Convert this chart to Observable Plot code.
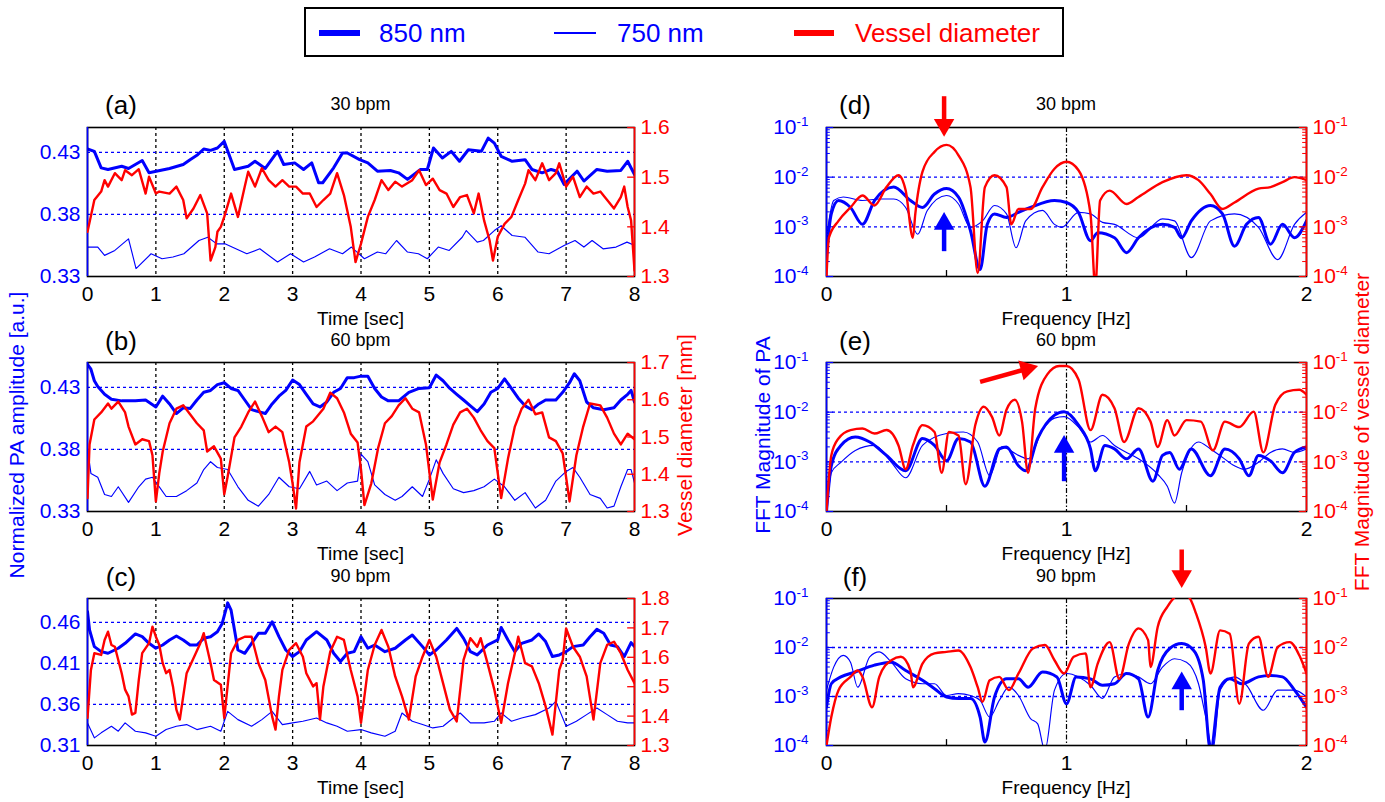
<!DOCTYPE html>
<html><head><meta charset="utf-8">
<script src="https://cdn.jsdelivr.net/npm/d3@7"></script>
<script src="https://cdn.jsdelivr.net/npm/@observablehq/plot@0.6"></script>
<style>
body{margin:0;background:#fff;}
#root{position:relative;width:1385px;height:802px;overflow:hidden;font-family:"Liberation Sans",Arial,Helvetica,sans-serif;background:#fff;}
.abs{position:absolute;white-space:nowrap;line-height:1;}
</style></head><body><div id="root"></div>
<script>
// ---------------- DATA ----------------
const timeTicks = [0,1,2,3,4,5,6,7,8];
const freqTicks = [0,1,2];
const freqMinor = [0.5,1.5];
const fftDecades = [-4,-3,-2,-1];           // log10 of FFT magnitude tick values
const legendItems = ["850 nm","750 nm","Vessel diameter"];
const bpmTitles = ["30 bpm","60 bpm","90 bpm"];
const panelLetters = ["(a)","(b)","(c)","(d)","(e)","(f)"];

// Panel (a) 30 bpm : [time s, value]
const a850 = [[0,.4327],[.1,.4308],[.2,.4175],[.3,.4162],[.5,.4188],[.6,.417],[.8,.4234],[.9,.4135],[1.2,.417],[1.4,.4202],[1.5,.4241],[1.6,.4276],[1.7,.4327],[1.8,.4316],[1.9,.4335],[2,.4388],[2.15,.4162],[2.35,.4188],[2.45,.4228],[2.6,.417],[2.78,.4308],[2.87,.4202],[3.03,.4215],[3.16,.4162],[3.28,.4215],[3.38,.4055],[3.44,.4055],[3.6,.4175],[3.73,.4295],[3.8,.4295],[3.98,.4241],[4.1,.4215],[4.24,.4148],[4.43,.4154],[4.55,.4135],[4.68,.4082],[4.87,.4162],[4.97,.4162],[5.06,.4335],[5.19,.4255],[5.32,.4308],[5.44,.4228],[5.57,.4321],[5.76,.4308],[5.86,.4414],[5.95,.4374],[6.05,.4268],[6.21,.4228],[6.4,.4241],[6.5,.4162],[6.65,.4135],[6.78,.4162],[6.87,.4148],[6.97,.4042],[7.16,.4148],[7.26,.4069],[7.45,.4162],[7.6,.4148],[7.8,.4154],[7.9,.4228],[8,.4122]];
const a750 = [[0,.3537],[.15,.3537],[.25,.347],[.4,.351],[.6,.3603],[.71,.3364],[.93,.3483],[1.09,.3443],[1.25,.3457],[1.41,.3483],[1.63,.359],[1.76,.3616],[1.89,.3563],[2.01,.3563],[2.17,.3523],[2.33,.3483],[2.52,.3523],[2.78,.3417],[2.97,.3483],[3.16,.3417],[3.32,.3457],[3.54,.3523],[3.73,.3483],[3.86,.3537],[4.05,.3443],[4.24,.3497],[4.36,.3483],[4.52,.359],[4.68,.3497],[4.84,.3483],[4.97,.3443],[5.13,.3537],[5.29,.351],[5.48,.3616],[5.54,.367],[5.7,.3577],[5.79,.359],[5.95,.367],[6.05,.3709],[6.21,.363],[6.4,.3616],[6.59,.3497],[6.75,.3483],[6.97,.355],[7.13,.359],[7.26,.3537],[7.38,.359],[7.54,.3523],[7.73,.3537],[7.89,.3577],[8,.355]];
const aVessel = [[0,1.39],[.1,1.454],[.2,1.471],[.25,1.494],[.3,1.481],[.4,1.508],[.5,1.494],[.55,1.514],[.65,1.504],[.75,1.516],[.85,1.467],[.9,1.501],[1,1.467],[1.05,1.471],[1.2,1.467],[1.3,1.481],[1.4,1.454],[1.45,1.417],[1.55,1.437],[1.65,1.464],[1.75,1.427],[1.8,1.332],[1.87,1.359],[1.9,1.39],[1.95,1.4],[2,1.42],[2.1,1.467],[2.2,1.42],[2.3,1.481],[2.35,1.511],[2.45,1.481],[2.55,1.518],[2.65,1.494],[2.75,1.481],[2.85,1.494],[2.95,1.481],[3.05,1.481],[3.15,1.467],[3.25,1.467],[3.35,1.44],[3.45,1.454],[3.55,1.467],[3.65,1.508],[3.75,1.464],[3.85,1.4],[3.92,1.329],[4,1.366],[4.1,1.42],[4.2,1.454],[4.3,1.494],[4.4,1.474],[4.5,1.491],[4.6,1.481],[4.75,1.494],[4.85,1.514],[4.95,1.484],[5.05,1.497],[5.15,1.474],[5.25,1.467],[5.35,1.44],[5.45,1.46],[5.55,1.464],[5.65,1.427],[5.72,1.467],[5.8,1.413],[5.88,1.373],[5.93,1.332],[6,1.38],[6.1,1.406],[6.2,1.42],[6.3,1.454],[6.4,1.487],[6.45,1.514],[6.55,1.494],[6.65,1.528],[6.75,1.494],[6.85,1.508],[6.9,1.528],[7,1.481],[7.1,1.501],[7.2,1.46],[7.3,1.481],[7.4,1.467],[7.5,1.471],[7.6,1.454],[7.7,1.437],[7.8,1.46],[7.85,1.481],[7.9,1.44],[7.95,1.413],[8,1.312]];

// Panel (b) 60 bpm
const b850 = [[0,.4486],[.05,.4446],[.1,.4353],[.15,.4306],[.25,.4244],[.35,.4204],[.5,.4191],[.7,.4191],[.85,.4198],[1,.4142],[1.1,.4229],[1.2,.4166],[1.3,.4089],[1.4,.4135],[1.5,.4129],[1.6,.4198],[1.7,.426],[1.8,.4275],[1.9,.4322],[2,.4337],[2.1,.4291],[2.2,.4275],[2.3,.4198],[2.4,.412],[2.5,.4104],[2.6,.4089],[2.7,.4166],[2.8,.4229],[2.9,.4275],[3,.4359],[3.1,.4322],[3.2,.4244],[3.3,.4166],[3.4,.4142],[3.5,.4182],[3.6,.426],[3.7,.4291],[3.8,.4378],[3.9,.4378],[4,.439],[4.1,.439],[4.2,.4291],[4.3,.4222],[4.4,.4191],[4.55,.4191],[4.7,.426],[4.85,.4291],[5,.4297],[5.1,.4399],[5.2,.4353],[5.3,.4291],[5.4,.4244],[5.5,.4198],[5.6,.4151],[5.7,.4104],[5.8,.4166],[5.9,.426],[6,.4291],[6.1,.4368],[6.2,.4291],[6.3,.4213],[6.4,.4151],[6.5,.412],[6.6,.4166],[6.7,.4198],[6.85,.4198],[6.95,.426],[7.05,.4337],[7.12,.4409],[7.2,.4353],[7.3,.4182],[7.4,.4135],[7.55,.412],[7.7,.4135],[7.8,.4198],[7.9,.4244],[7.95,.4275],[8,.4182]];
const b750 = [[0,.3809],[.05,.3607],[.15,.3576],[.25,.3437],[.35,.3421],[.45,.3499],[.6,.3374],[.75,.3499],[.85,.3561],[.95,.3576],[1.05,.3499],[1.15,.3421],[1.3,.3421],[1.45,.3468],[1.6,.353],[1.7,.3638],[1.8,.3701],[1.9,.3654],[2.05,.3638],[2.2,.3499],[2.35,.339],[2.5,.3343],[2.65,.3437],[2.8,.3576],[2.95,.3499],[3.1,.3483],[3.25,.3623],[3.35,.3514],[3.5,.3545],[3.65,.3468],[3.8,.353],[3.95,.3545],[4,.3763],[4.1,.3701],[4.2,.3514],[4.35,.3437],[4.5,.339],[4.6,.3421],[4.75,.3499],[4.9,.3421],[5,.3561],[5.1,.3716],[5.2,.3607],[5.35,.3483],[5.5,.3452],[5.65,.3468],[5.8,.3499],[5.95,.3561],[6.1,.3499],[6.25,.339],[6.4,.3452],[6.55,.3328],[6.7,.339],[6.85,.3545],[7,.3623],[7.1,.3654],[7.2,.3576],[7.35,.3437],[7.5,.3406],[7.6,.3328],[7.7,.3343],[7.8,.3499],[7.9,.3638],[7.95,.3638],[8,.353]];
const bVessel = [[0,1.336],[.03,1.48],[.1,1.547],[.2,1.566],[.3,1.59],[.35,1.576],[.45,1.595],[.55,1.566],[.6,1.528],[.7,1.48],[.8,1.494],[.9,1.489],[.95,1.451],[1,1.327],[1.05,1.403],[1.1,1.461],[1.2,1.537],[1.3,1.576],[1.4,1.585],[1.5,1.561],[1.6,1.537],[1.7,1.518],[1.75,1.461],[1.85,1.475],[1.95,1.442],[2,1.346],[2.05,1.394],[2.15,1.499],[2.25,1.528],[2.35,1.566],[2.45,1.595],[2.55,1.556],[2.65,1.513],[2.75,1.528],[2.85,1.513],[2.95,1.432],[3,1.375],[3.05,1.308],[3.1,1.432],[3.2,1.528],[3.3,1.542],[3.45,1.576],[3.55,1.619],[3.65,1.604],[3.75,1.566],[3.85,1.509],[3.95,1.485],[4,1.413],[4.05,1.317],[4.15,1.375],[4.25,1.47],[4.35,1.537],[4.45,1.556],[4.55,1.585],[4.65,1.604],[4.75,1.576],[4.85,1.566],[4.95,1.48],[5.05,1.332],[5.15,1.432],[5.25,1.48],[5.35,1.533],[5.45,1.566],[5.55,1.576],[5.65,1.552],[5.75,1.518],[5.85,1.489],[5.95,1.47],[6.05,1.336],[6.15,1.442],[6.25,1.528],[6.35,1.576],[6.45,1.6],[6.55,1.561],[6.65,1.566],[6.75,1.499],[6.85,1.489],[6.95,1.456],[7.05,1.327],[7.15,1.451],[7.25,1.528],[7.35,1.59],[7.5,1.585],[7.6,1.552],[7.7,1.509],[7.8,1.48],[7.9,1.509],[8,1.494]];

// Panel (c) 90 bpm
const c850 = [[0,.4729],[.03,.4506],[.1,.4304],[.2,.4243],[.3,.4223],[.45,.4284],[.55,.4344],[.7,.4458],[.8,.4425],[.9,.4344],[1,.4284],[1.1,.4324],[1.2,.4385],[1.3,.4433],[1.4,.4385],[1.5,.4324],[1.6,.4324],[1.7,.4405],[1.8,.4425],[1.9,.4486],[1.97,.4587],[2.05,.4837],[2.1,.4748],[2.15,.4506],[2.2,.4263],[2.3,.4223],[2.4,.4344],[2.5,.4466],[2.6,.4466],[2.7,.4607],[2.8,.4425],[2.9,.4263],[3,.4183],[3.1,.4243],[3.2,.4385],[3.35,.4486],[3.5,.4385],[3.6,.4223],[3.7,.4122],[3.8,.4223],[3.9,.4243],[4,.4425],[4.1,.4284],[4.2,.4324],[4.35,.4243],[4.5,.4284],[4.65,.4385],[4.75,.4445],[4.9,.4304],[5,.4203],[5.1,.4263],[5.25,.4385],[5.4,.4526],[5.5,.4405],[5.6,.4243],[5.7,.4203],[5.85,.4324],[6,.4385],[6.05,.4538],[6.15,.4385],[6.25,.4243],[6.35,.4344],[6.5,.4385],[6.6,.4458],[6.7,.4365],[6.8,.4183],[6.9,.4203],[7,.4243],[7.1,.4304],[7.25,.4324],[7.35,.4425],[7.45,.4514],[7.55,.4466],[7.65,.4324],[7.75,.4304],[7.85,.4183],[7.95,.4352],[8,.4304]];
const c750 = [[0,.3375],[.1,.3193],[.2,.3254],[.35,.3334],[.45,.3274],[.55,.3375],[.7,.3274],[.85,.3254],[1,.3213],[1.15,.3294],[1.3,.3334],[1.45,.3355],[1.6,.3294],[1.8,.3334],[1.95,.3274],[2.05,.3516],[2.2,.3415],[2.4,.3334],[2.55,.3415],[2.7,.3516],[2.85,.3355],[3,.3375],[3.15,.3395],[3.35,.3435],[3.5,.3375],[3.65,.3334],[3.8,.3274],[4,.3294],[4.15,.3254],[4.35,.3213],[4.5,.3274],[4.6,.3496],[4.75,.3395],[4.9,.3355],[5.05,.3314],[5.2,.3334],[5.35,.3435],[5.45,.3496],[5.6,.3375],[5.8,.3375],[5.95,.3395],[6.05,.3496],[6.2,.3395],[6.35,.3435],[6.55,.3476],[6.75,.3557],[6.85,.3637],[7,.3334],[7.15,.3395],[7.3,.3476],[7.45,.3557],[7.6,.3476],[7.75,.3395],[7.9,.3375],[8,.3375]];
const cVessel = [[0,1.394],[.05,1.557],[.1,1.614],[.2,1.608],[.25,1.659],[.3,1.687],[.35,1.642],[.4,1.636],[.5,1.546],[.55,1.49],[.6,1.467],[.65,1.405],[.7,1.411],[.75,1.523],[.8,1.614],[.9,1.648],[.95,1.704],[1,1.67],[1.05,1.642],[1.1,1.58],[1.15,1.546],[1.2,1.557],[1.25,1.501],[1.3,1.422],[1.35,1.388],[1.45,1.546],[1.55,1.597],[1.65,1.648],[1.7,1.682],[1.8,1.58],[1.85,1.523],[1.95,1.507],[2,1.394],[2.1,1.614],[2.2,1.659],[2.3,1.67],[2.4,1.67],[2.5,1.58],[2.6,1.523],[2.7,1.399],[2.75,1.354],[2.8,1.467],[2.85,1.557],[2.95,1.625],[3.05,1.648],[3.15,1.602],[3.2,1.546],[3.3,1.501],[3.35,1.512],[3.4,1.388],[3.45,1.501],[3.55,1.619],[3.65,1.67],[3.75,1.659],[3.85,1.557],[3.95,1.467],[4,1.377],[4.1,1.557],[4.2,1.642],[4.3,1.693],[4.4,1.636],[4.5,1.535],[4.6,1.467],[4.7,1.388],[4.8,1.535],[4.9,1.602],[5,1.659],[5.1,1.602],[5.2,1.512],[5.3,1.422],[5.4,1.382],[5.5,1.591],[5.6,1.665],[5.7,1.636],[5.75,1.665],[5.85,1.58],[5.95,1.49],[6.05,1.377],[6.15,1.512],[6.25,1.614],[6.3,1.67],[6.4,1.58],[6.5,1.569],[6.6,1.512],[6.7,1.433],[6.8,1.337],[6.9,1.557],[6.95,1.591],[7,1.698],[7.1,1.636],[7.2,1.602],[7.3,1.535],[7.4,1.388],[7.5,1.58],[7.6,1.642],[7.7,1.653],[7.8,1.614],[7.9,1.557],[8,1.512]];

// FFT panels: [frequency Hz, log10(FFT magnitude)]
const d850 = [[0,-3.56],[.02,-2.74],[.05,-2.47],[.1,-2.61],[.15,-2.95],[.2,-2.47],[.28,-2.2],[.35,-2.47],[.4,-2.61],[.45,-2.34],[.5,-2.23],[.55,-2.4],[.6,-3.08],[.64,-3.86],[.67,-2.95],[.7,-2.74],[.75,-2.81],[.8,-2.71],[.85,-2.61],[.95,-2.47],[1,-2.51],[1.05,-2.71],[1.1,-3.28],[1.13,-3.12],[1.2,-3.22],[1.25,-3.52],[1.3,-3.22],[1.4,-2.95],[1.45,-3.01],[1.48,-3.22],[1.52,-2.88],[1.6,-2.57],[1.65,-2.74],[1.7,-3.39],[1.75,-2.95],[1.8,-2.81],[1.85,-3.35],[1.9,-2.95],[1.95,-3.22],[2,-2.88]];
const d750 = [[0,-3.22],[.03,-2.47],[.07,-2.4],[.15,-2.47],[.22,-2.44],[.28,-2.44],[.33,-2.61],[.38,-3.15],[.42,-2.67],[.5,-2.37],[.55,-2.54],[.6,-3.01],[.65,-2.88],[.7,-2.57],[.75,-2.74],[.79,-3.42],[.83,-2.88],[.9,-2.67],[.95,-2.95],[.98,-3.01],[1.05,-2.71],[1.1,-2.74],[1.15,-2.91],[1.2,-2.95],[1.3,-3.22],[1.4,-2.84],[1.45,-2.88],[1.52,-3.62],[1.6,-2.88],[1.7,-2.74],[1.8,-3.01],[1.88,-3.66],[1.95,-2.95],[2,-2.71]];
const dVessel = [[0,-4],[.01,-3.22],[.05,-2.88],[.1,-2.61],[.15,-2.37],[.2,-2.57],[.25,-2.2],[.3,-1.96],[.33,-2.27],[.36,-3.22],[.37,-2.74],[.4,-1.89],[.45,-1.49],[.5,-1.35],[.55,-1.56],[.6,-2.2],[.63,-3.93],[.66,-2.2],[.7,-1.96],[.75,-2.2],[.77,-2.95],[.8,-2.64],[.85,-2.64],[.9,-2.2],[.95,-1.83],[1,-1.69],[1.05,-1.86],[1.1,-2.74],[1.12,-4.2],[1.14,-2.47],[1.18,-2.27],[1.25,-2.54],[1.3,-2.4],[1.4,-2.1],[1.5,-1.96],[1.55,-2.06],[1.6,-2.34],[1.65,-2.64],[1.7,-2.51],[1.8,-2.23],[1.85,-2.2],[1.9,-2.1],[1.95,-2],[2,-2.06]];

const e850 = [[0,-4],[.02,-3.08],[.06,-2.67],[.12,-2.5],[.18,-2.6],[.25,-2.87],[.33,-3.18],[.4,-2.53],[.45,-2.67],[.5,-2.98],[.55,-2.53],[.6,-2.6],[.66,-3.49],[.72,-2.74],[.75,-2.7],[.8,-3.08],[.83,-3.18],[.88,-2.53],[.95,-2.06],[.99,-1.99],[1.05,-2.26],[1.1,-2.74],[1.12,-3.18],[1.16,-2.67],[1.2,-2.74],[1.25,-2.94],[1.3,-2.74],[1.36,-3.39],[1.4,-2.87],[1.43,-2.81],[1.47,-3.15],[1.52,-2.74],[1.6,-3.28],[1.66,-2.74],[1.72,-2.94],[1.76,-3.28],[1.8,-2.87],[1.85,-2.98],[1.9,-3.22],[1.95,-2.81],[2,-2.7]];
const e750 = [[0,-4],[.02,-3.22],[.06,-3.01],[.12,-2.77],[.2,-2.67],[.27,-3.01],[.33,-3.32],[.4,-2.67],[.5,-2.43],[.57,-2.4],[.63,-2.6],[.68,-3.28],[.73,-2.7],[.8,-2.87],[.84,-2.94],[.9,-2.36],[.95,-2.12],[.99,-2.09],[1.05,-2.3],[1.1,-2.6],[1.15,-2.47],[1.2,-2.67],[1.25,-2.81],[1.3,-2.94],[1.38,-3.25],[1.42,-3.49],[1.45,-3.83],[1.48,-3.22],[1.55,-2.6],[1.6,-2.74],[1.65,-2.91],[1.7,-3.08],[1.74,-3.15],[1.8,-3.01],[1.85,-2.81],[1.9,-2.74],[1.95,-2.81],[2,-2.74]];
const eVessel = [[0,-4],[.02,-2.87],[.05,-2.53],[.1,-2.36],[.15,-2.33],[.2,-2.43],[.25,-2.36],[.3,-2.67],[.33,-3.15],[.36,-2.67],[.4,-2.26],[.45,-2.4],[.48,-3.22],[.51,-2.4],[.55,-2.47],[.58,-3.45],[.62,-2.26],[.655,-1.89],[.69,-2.1],[.72,-2.47],[.75,-1.95],[.785,-1.75],[.815,-2.2],[.84,-3.22],[.87,-1.92],[.92,-1.24],[.97,-1.07],[1,-1.07],[1.05,-1.34],[1.1,-2.36],[1.15,-1.65],[1.2,-1.92],[1.24,-2.6],[1.3,-1.92],[1.35,-2.19],[1.38,-2.7],[1.42,-2.16],[1.45,-2.47],[1.5,-2.16],[1.56,-2.19],[1.61,-2.77],[1.66,-2.19],[1.72,-2.3],[1.78,-1.99],[1.82,-2.81],[1.87,-1.85],[1.92,-1.58],[1.97,-1.55],[2,-1.65]];

const f850 = [[0,-3.22],[.02,-2.74],[.06,-2.6],[.12,-2.5],[.2,-2.36],[.27,-2.3],[.33,-2.47],[.4,-2.67],[.45,-2.84],[.5,-3.01],[.55,-3.04],[.6,-3.04],[.64,-3.42],[.66,-3.93],[.7,-3.01],[.75,-2.64],[.8,-2.64],[.84,-2.81],[.9,-2.5],[.96,-2.6],[1,-3.15],[1.04,-2.6],[1.1,-2.64],[1.15,-2.77],[1.2,-2.74],[1.25,-2.53],[1.3,-2.64],[1.34,-3.42],[1.38,-2.47],[1.43,-2.02],[1.48,-1.92],[1.53,-2.06],[1.57,-2.67],[1.6,-4.1],[1.64,-2.81],[1.68,-2.64],[1.73,-2.74],[1.8,-2.6],[1.85,-2.57],[1.9,-2.6],[1.95,-2.87],[2,-3.22]];
const f750 = [[0,-2.87],[.03,-2.4],[.07,-2.16],[.1,-2.3],[.13,-2.81],[.18,-2.19],[.22,-2.09],[.27,-2.3],[.33,-2.64],[.4,-2.74],[.45,-2.74],[.5,-2.98],[.55,-2.94],[.6,-2.98],[.64,-3.08],[.68,-3.42],[.72,-3.08],[.76,-2.81],[.8,-2.98],[.85,-3.45],[.88,-3.56],[.91,-4.1],[.95,-2.87],[1,-2.53],[1.05,-2.6],[1.1,-2.77],[1.15,-3.04],[1.2,-2.6],[1.25,-2.53],[1.3,-2.6],[1.35,-2.74],[1.4,-2.4],[1.45,-2.23],[1.5,-2.3],[1.55,-2.74],[1.58,-3.42],[1.61,-4.1],[1.64,-2.87],[1.7,-2.6],[1.75,-2.77],[1.82,-3.28],[1.88,-2.87],[1.95,-2.87],[2,-3.01]];
const fVessel = [[0,-4],[.02,-3.42],[.05,-2.87],[.1,-2.6],[.13,-2.47],[.15,-2.6],[.19,-3.22],[.22,-2.6],[.27,-2.26],[.31,-2.19],[.35,-2.47],[.36,-2.81],[.4,-2.33],[.45,-2.12],[.5,-2.09],[.55,-2.06],[.6,-2.4],[.63,-2.81],[.65,-3.11],[.68,-2.67],[.72,-2.6],[.76,-2.87],[.8,-2.53],[.86,-2.02],[.91,-1.95],[.95,-2.26],[.99,-2.53],[1.03,-2.19],[1.08,-2.12],[1.1,-2.81],[1.13,-2.33],[1.18,-1.89],[1.22,-2.64],[1.26,-1.92],[1.3,-1.61],[1.34,-1.85],[1.35,-2.4],[1.38,-1.58],[1.42,-1.17],[1.48,-0.9],[1.51,-0.97],[1.54,-1.31],[1.58,-1.99],[1.6,-2.53],[1.64,-1.65],[1.68,-1.72],[1.72,-3.15],[1.76,-1.92],[1.8,-1.78],[1.84,-2.6],[1.88,-1.99],[1.93,-1.89],[1.97,-2.16],[2,-2.53]];

// Annotation arrows (frequency Hz, log10 magnitude): tail -> head centre
const fftArrows = [
  {panel:"d", color:"red",  x1:0.49, y1:-0.37, x2:0.49, y2:-0.95, rot:180},
  {panel:"d", color:"blue", x1:0.49, y1:-3.49, x2:0.49, y2:-2.94, rot:0},
  {panel:"e", color:"red",  x1:0.64, y1:-1.39, x2:0.834, y2:-1.13, rot:75},
  {panel:"e", color:"blue", x1:0.99, y1:-3.39, x2:0.99, y2:-2.70, rot:0},
  {panel:"f", color:"red",  x1:1.48, y1:0.0,   x2:1.48, y2:-0.545, rot:180},
  {panel:"f", color:"blue", x1:1.48, y1:-3.28, x2:1.48, y2:-2.73, rot:0}
];

// ---------------- RENDER ----------------
const BLUE = "#0000ff", RED = "#ff0000";
const FONT = '"Liberation Sans", Arial, Helvetica, sans-serif';
const root = document.getElementById("root");
const X = d => d[0], Y = d => d[1];

function mount(el, left, top, w) {
  const svg = el.tagName.toLowerCase() === "svg" ? el : el.querySelector("svg");
  const d = document.createElement("div");
  d.className = "abs"; d.style.left = left + "px"; d.style.top = top + "px"; d.style.width = w + "px";
  d.appendChild(el); root.appendChild(d);
  return svg;
}
function txt(s, x, y, o = {}) {
  const d = document.createElement("div");
  d.className = "abs"; d.textContent = s;
  d.style.left = x + "px"; d.style.top = y + "px";
  d.style.fontSize = (o.size || 19) + "px"; d.style.color = o.color || "#000";
  d.style.transform = "translate(-50%,-50%)" + (o.rot ? " rotate(-90deg)" : "");
  root.appendChild(d);
}
function superscripts(svg) {
  for (const t of svg.querySelectorAll("text")) {
    const s = t.textContent;
    if (s.includes("|")) {
      const [b, e] = s.split("|");
      t.textContent = b;
      const ts = document.createElementNS("http://www.w3.org/2000/svg", "tspan");
      ts.setAttribute("dy", "-0.62em"); ts.setAttribute("font-size", "0.64em");
      ts.textContent = e; t.appendChild(ts);
    }
  }
}
const plotStyle = {background: "transparent", overflow: "visible", fontFamily: FONT, fontSize: "21px", maxWidth: "none"};

function timePanel(p) {
  const ML = 80, MR = 60, MT = 10, MB = 40;
  const W = p.fw + ML + MR, H = p.fh + MT + MB;
  const common = {width: W, height: H, marginLeft: ML, marginRight: MR, marginTop: MT, marginBottom: MB, style: plotStyle};
  const blue = Plot.plot({...common,
    x: {domain: [0, 8]}, y: {domain: p.yDom},
    marks: [
      Plot.ruleX(timeTicks.filter(t => t > 0 && t < 8), {stroke: "black", strokeDasharray: "3,3", strokeWidth: 1.3}),
      Plot.ruleY(p.yTicks.filter(v => v > p.yDom[0]), {stroke: BLUE, strokeDasharray: "3,3", strokeWidth: 1.3}),
      Plot.line(p.s750, {x: X, y: Y, stroke: BLUE, strokeWidth: 1.15, clip: true}),
      Plot.line(p.s850, {x: X, y: Y, stroke: BLUE, strokeWidth: 3, clip: true}),
      Plot.frame({stroke: "black", strokeWidth: 1.6}),
      Plot.ruleX([0], {stroke: BLUE, strokeWidth: 1.6}),
      Plot.axisX({ticks: timeTicks, tickSize: 0, tickPadding: 10, label: null, tickFormat: d3.format("d")}),
      Plot.axisY({ticks: p.yTicks, tickSize: 0, tickPadding: 7, label: null, color: BLUE, tickFormat: d3.format(".2f")})
    ]});
  const red = Plot.plot({...common,
    x: {domain: [0, 8], axis: null}, y: {domain: p.rDom},
    marks: [
      Plot.line(p.sRed, {x: X, y: Y, stroke: RED, strokeWidth: 2.4, clip: true}),
      Plot.ruleX([8], {stroke: RED, strokeWidth: 1.6}),
      Plot.ruleY(p.rTicks, {x1: 7.9, x2: 8, stroke: RED, strokeWidth: 1.3}),
      Plot.axisY({anchor: "right", ticks: p.rTicks, tickSize: 0, tickPadding: 6, label: null, color: RED, tickFormat: d3.format(".1f")})
    ]});
  mount(blue, p.fl - ML, p.ft - MT, W);
  mount(red, p.fl - ML, p.ft - MT, W);
}

function fftPanel(p) {
  const ML = 60, MR = 60, MT = 55, MB = 40;
  const W = p.fw + ML + MR, H = p.fh + MT + MB;
  const common = {width: W, height: H, marginLeft: ML, marginRight: MR, marginTop: MT, marginBottom: MB, style: plotStyle};
  const minor = fftDecades.slice(0, -1).flatMap(k => d3.range(2, 10).map(m => k + Math.log10(m)));
  const fmt = d => `10|${d}`;
  const arrows = fftArrows.filter(a => a.panel === p.id);
  const arrowMarks = col => {
    const A = arrows.filter(a => a.color === col);
    const c = col === "red" ? RED : BLUE;
    return [
      Plot.link(A, {x1: "x1", y1: "y1", x2: "x2", y2: "y2", stroke: c, strokeWidth: 4.5}),
      Plot.dot(A, {x: "x2", y: "y2", symbol: "triangle", r: 7.6, fill: c, stroke: "none", rotate: "rot"})
    ];
  };
  const blue = Plot.plot({...common,
    x: {domain: [0, 2]}, y: {domain: [-4, -1]},
    marks: [
      Plot.ruleX([1], {stroke: "black", strokeDasharray: "5,2,1.5,2", strokeWidth: 1.2}),
      Plot.ruleY([-2, -3], {stroke: BLUE, strokeDasharray: "3,3", strokeWidth: 1.3}),
      Plot.line(p.s750, {x: X, y: Y, stroke: BLUE, strokeWidth: 1.15, curve: "monotone-x", clip: true}),
      Plot.line(p.s850, {x: X, y: Y, stroke: BLUE, strokeWidth: 3, curve: "monotone-x", clip: true}),
      Plot.frame({stroke: "black", strokeWidth: 1.6}),
      Plot.ruleX([0], {stroke: BLUE, strokeWidth: 1.6}),
      Plot.ruleY(minor, {x1: 0, x2: 0.016, stroke: BLUE, strokeWidth: 1}),
      Plot.ruleY(fftDecades, {x1: 0, x2: 0.03, stroke: BLUE, strokeWidth: 1.2}),
      Plot.ruleX(freqMinor, {y1: -4, y2: -3.88, stroke: "black", strokeWidth: 1.3}),
      ...arrowMarks("blue"),
      Plot.axisX({ticks: freqTicks, tickSize: 0, tickPadding: 10, label: null, tickFormat: d3.format("d")}),
      Plot.axisY({ticks: fftDecades, tickSize: 0, tickPadding: 18, label: null, color: BLUE, tickFormat: fmt})
    ]});
  const red = Plot.plot({...common,
    x: {domain: [0, 2], axis: null}, y: {domain: [-4, -1]},
    marks: [
      Plot.line(p.sRed, {x: X, y: Y, stroke: RED, strokeWidth: 2.4, curve: "monotone-x", clip: true}),
      Plot.ruleX([2], {stroke: RED, strokeWidth: 1.6}),
      Plot.ruleY(minor, {x1: 1.984, x2: 2, stroke: RED, strokeWidth: 1}),
      Plot.ruleY(fftDecades, {x1: 1.97, x2: 2, stroke: RED, strokeWidth: 1.2}),
      ...arrowMarks("red"),
      Plot.axisY({anchor: "right", ticks: fftDecades, tickSize: 0, tickPadding: 6, label: null, color: RED, tickFormat: fmt})
    ]});
  const s1 = mount(blue, p.fl - ML, p.ft - MT, W);
  const s2 = mount(red, p.fl - ML, p.ft - MT, W);
  superscripts(s1); superscripts(s2);
}

const LFL = 87, LFW = 547, RFL = 826, RFW = 480;
const tops = [127, 362, 598], hts = [149, 149, 147];

timePanel({fl: LFL, ft: tops[0], fw: LFW, fh: hts[0], yDom: [0.33, 0.45], yTicks: [0.33, 0.38, 0.43], rDom: [1.3, 1.6], rTicks: [1.3, 1.4, 1.5, 1.6], s850: a850, s750: a750, sRed: aVessel});
timePanel({fl: LFL, ft: tops[1], fw: LFW, fh: hts[1], yDom: [0.33, 0.45], yTicks: [0.33, 0.38, 0.43], rDom: [1.3, 1.7], rTicks: [1.3, 1.4, 1.5, 1.6, 1.7], s850: b850, s750: b750, sRed: bVessel});
timePanel({fl: LFL, ft: tops[2], fw: LFW, fh: hts[2], yDom: [0.31, 0.489], yTicks: [0.31, 0.36, 0.41, 0.46], rDom: [1.3, 1.8], rTicks: [1.3, 1.4, 1.5, 1.6, 1.7, 1.8], s850: c850, s750: c750, sRed: cVessel});
fftPanel({id: "d", fl: RFL, ft: tops[0], fw: RFW, fh: hts[0], s850: d850, s750: d750, sRed: dVessel});
fftPanel({id: "e", fl: RFL, ft: tops[1], fw: RFW, fh: hts[1], s850: e850, s750: e750, sRed: eVessel});
fftPanel({id: "f", fl: RFL, ft: tops[2], fw: RFW, fh: hts[2], s850: f850, s750: f750, sRed: fVessel});

// Titles and labels
const LCX = LFL + LFW / 2, RCX = RFL + RFW / 2;
const titleY = [104, 340, 576];
for (let i = 0; i < 3; i++) {
  txt(panelLetters[i], 121, titleY[i] + 1, {size: 26});
  txt(bpmTitles[i], LCX, titleY[i], {size: 18});
  txt("Time [sec]", LCX, tops[i] + hts[i] + 42, {size: 19});
  txt(panelLetters[i + 3], 855, titleY[i] + 1, {size: 26});
  txt(bpmTitles[i], RCX, titleY[i], {size: 18});
  txt("Frequency [Hz]", RCX, tops[i] + hts[i] + 42, {size: 19});
}
txt("Normalized PA amplitude [a.u.]", 16, 435, {size: 21, color: BLUE, rot: true});
txt("Vessel diameter [mm]", 684, 435, {size: 21, color: RED, rot: true});
txt("FFT Magnitude of PA", 762, 435, {size: 21, color: BLUE, rot: true});
txt("FFT Magnitude of vessel diameter", 1361, 432, {size: 21, color: RED, rot: true});

// Legend
const lg = document.createElement("div");
lg.className = "abs";
Object.assign(lg.style, {left: "304px", top: "7px", width: "760px", height: "50px", border: "2px solid #000", boxSizing: "border-box", background: "#fff"});
root.appendChild(lg);
const legendDefs = [
  {sx: 319, sw: 41, sh: 6, c: BLUE, tx: 379},
  {sx: 554, sw: 42, sh: 2, c: BLUE, tx: 617},
  {sx: 794, sw: 40, sh: 6, c: RED, tx: 855}
];
legendDefs.forEach((L, i) => {
  const s = document.createElement("div");
  s.className = "abs";
  Object.assign(s.style, {left: L.sx + "px", top: (33 - L.sh / 2) + "px", width: L.sw + "px", height: L.sh + "px", background: L.c});
  root.appendChild(s);
  const t = document.createElement("div");
  t.className = "abs"; t.textContent = legendItems[i];
  Object.assign(t.style, {left: L.tx + "px", top: "33px", fontSize: "26px", color: L.c, transform: "translateY(-50%)"});
  root.appendChild(t);
});
</script></body></html>
